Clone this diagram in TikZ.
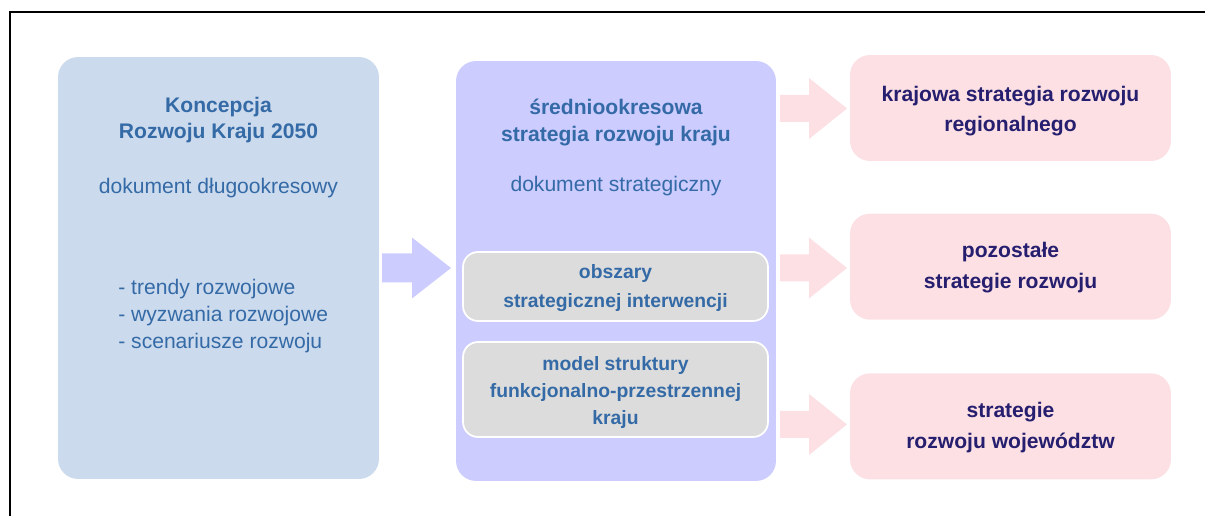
\documentclass[tikz,border=0pt]{standalone}
\usepackage{fontspec}
\setmainfont{Liberation Sans}
\usetikzlibrary{positioning,calc}
\definecolor{kBlue}{RGB}{204,218,237}
\definecolor{sLav}{RGB}{204,204,255}
\definecolor{oGray}{RGB}{220,220,220}
\definecolor{rPink}{RGB}{252,224,228}
\definecolor{txtBlue}{RGB}{52,106,166}
\definecolor{txtNavy}{RGB}{38,30,110}
\tikzset{
  panel/.style={rounded corners=0.4cm,inner sep=0pt},
  kbox/.style={panel,fill=kBlue,minimum width=6.42cm,minimum height=8.44cm},
  sbox/.style={panel,fill=sLav,minimum width=6.40cm,minimum height=8.40cm},
  obox/.style={panel,rounded corners=0.3cm,fill=oGray,draw=white,line width=1pt,minimum width=6.10cm},
  rbox/.style={panel,fill=rPink,minimum width=6.42cm,minimum height=2.12cm},
  ttl/.style={inner sep=0pt,align=center,text=txtBlue,font=\fontsize{12}{15.3}\selectfont\bfseries},
  sub/.style={inner sep=0pt,align=center,text=txtBlue,font=\fontsize{12}{15.3}\selectfont},
  otxt/.style={inner sep=0pt,align=center,text=txtBlue,font=\fontsize{11}{15.2}\selectfont\bfseries},
  rtxt/.style={inner sep=0pt,align=center,text=txtNavy,font=\fontsize{12}{17.5}\selectfont\bfseries},
}
% block arrow: colour, x start, x head, x tip, y centre, shaft half width
\newcommand{\blockarrow}[6]{%
  \fill[#1] (#2,#5-#6) -- (#3,#5-#6) -- (#3,#5-30.5) -- (#4,#5)
    -- (#3,#5+30.5) -- (#3,#5+#6) -- (#2,#5+#6) -- cycle;}

\begin{document}
\begin{tikzpicture}[x=0.02cm,y=-0.02cm]
    \useasboundingbox (0,0) rectangle (1205,516);
    % frame
    \draw[line width=0.04cm] (10,517) -- (10,12) -- (1206,12);
    % long-term concept
    \node[kbox] (krk) at (218.5,268) {};
    \node[ttl] (krkt) at (218.5,120) {Koncepcja\\Rozwoju Kraju 2050};
    \node[sub] (krkd) at (218.5,188.5) {dokument długookresowy};
    \node[sub,align=left,anchor=west] (krkl) at (118,316)
      {- trendy rozwojowe\\- wyzwania rozwojowe\\- scenariusze rozwoju};
    % medium-term strategy
    \node[sbox] (srk) at (616,271) {};
    \node[ttl] (srkt) at (616,122.5) {średniookresowa\\strategia rozwoju kraju};
    \node[sub] (srkd) at (616,186) {dokument strategiczny};
    \node[obox,minimum height=1.38cm] (osi) at (615.5,286.5) {};
    \node[otxt,font=\fontsize{11}{16.5}\selectfont\bfseries] at ($(osi)+(0,2)$) {obszary\\strategicznej interwencji};
    \node[obox,minimum height=1.90cm] (msf) at (615.5,389.5) {};
    \node[otxt] at ($(msf)+(0,3)$) {model struktury\\funkcjonalno-przestrzennej\\kraju};
    % derived strategies
    \node[rbox] (rs1) at (1010.5,108) {};
    \node[rbox,below=1.04cm of rs1] (rs2) {};
    \node[rbox,below=1.06cm of rs2] (rs3) {};
    \node[rtxt] at ($(rs1)+(0,3)$) {krajowa strategia rozwoju\\regionalnego};
    \node[rtxt] at ($(rs2)+(0,1)$) {pozostałe\\strategie rozwoju};
    \node[rtxt] at ($(rs3)+(0,1)$) {strategie\\rozwoju województw};
    % arrows
    \blockarrow{sLav}{382}{412}{451}{268}{14.5}
    \foreach \yc in {108.5,268,424.5}
       {\blockarrow{rPink}{780}{809}{847}{\yc}{13.5}}
\end{tikzpicture}
\end{document}
